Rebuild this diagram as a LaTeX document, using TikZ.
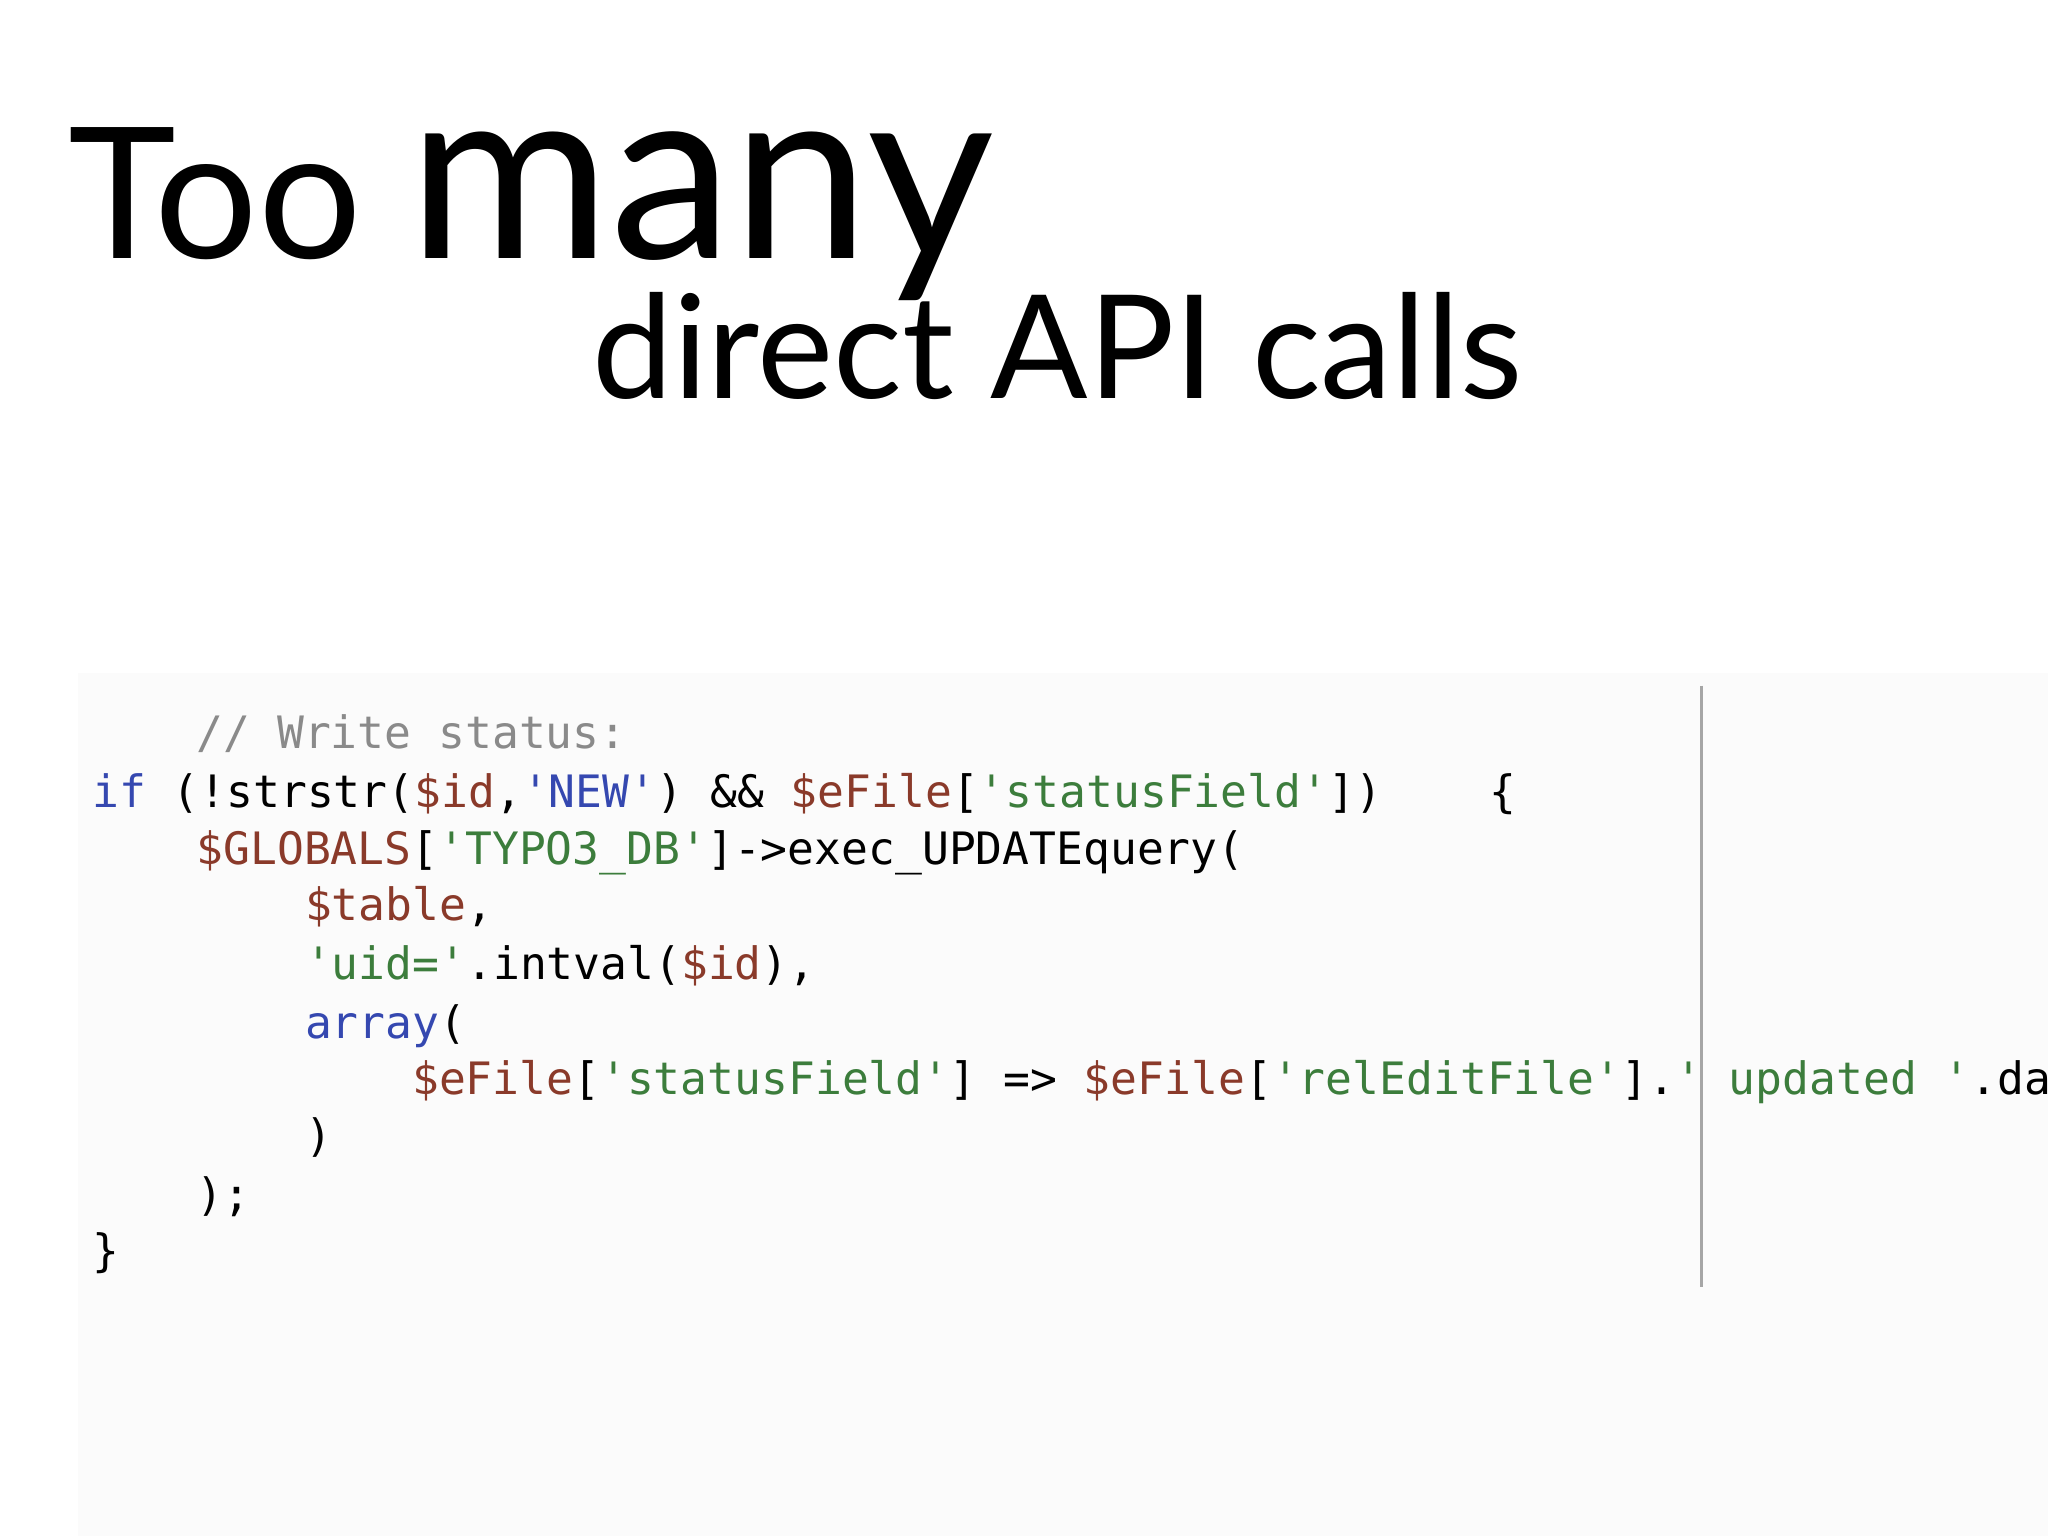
\documentclass[tikz,border=0pt]{standalone}
\usepackage{fontspec}
\newfontfamily\titlefont{Lato}
\newfontfamily\codefont{DejaVu Sans Mono}
\definecolor{cmt}{HTML}{8A8A8A}
\definecolor{kw}{HTML}{3548B0}
\definecolor{str}{HTML}{3C7D3C}
\definecolor{var}{HTML}{8A3A2A}
\newcommand{\V}[1]{\textcolor{var}{#1}}
\newcommand{\Sg}[1]{\textcolor{str}{#1}}
\newcommand{\K}[1]{\textcolor{kw}{#1}}
\begin{document}
\begin{tikzpicture}[x=0.01306cm,y=-0.01306cm,
  title/.style={anchor=base west,inner sep=0pt,font=\titlefont},
  code/.style={anchor=base west,inner sep=0pt,font=\codefont\fontsize{12.7pt}{14pt}\selectfont}]
\useasboundingbox (0,0) rectangle (1568,1176);
\fill[white] (0,0) rectangle (1568,1176);
\fill[black!1.5] (60,515) rectangle (1568,1176);
\node[title,font=\titlefont\fontsize{52pt}{60pt}\selectfont] (too) at (52,198) {Too};
\node[title,font=\titlefont\fontsize{70pt}{80pt}\selectfont] (many) at (312,198) {many};
\node[title,font=\titlefont\fontsize{41pt}{48pt}\selectfont] (direct) at (453,305) {direct API calls};
\draw[black!35,line width=0.8pt] (1303,525) -- (1303,985);
\node[code] (l1) at (150,573) {\textcolor{cmt}{// Write status:}};
\node[code] (l2) at (70,618) {\K{if} (!strstr(\V{\$id},\K{'NEW'}) \&\& \V{\$eFile}[\Sg{'statusField'}])\ \ \ \ \{};
\node[code] (l3) at (150,662) {\V{\$GLOBALS}[\Sg{'TYPO3\_DB'}]->exec\_UPDATEquery(};
\node[code] (l4) at (233,705) {\V{\$table},};
\node[code] (l5) at (233,750) {\Sg{'uid='}.intval(\V{\$id}),};
\node[code] (l6) at (233,795) {\K{array}(};
\node[code] (l7) at (315,838) {\V{\$eFile}[\Sg{'statusField'}] => \V{\$eFile}[\Sg{'relEditFile'}].\Sg{'\ updated\ '}.da};
\node[code] (l8) at (233,882) {)};
\node[code] (l9) at (150,927) {);};
\node[code] (l10) at (70,970) {\}};
\end{tikzpicture}
\end{document}
